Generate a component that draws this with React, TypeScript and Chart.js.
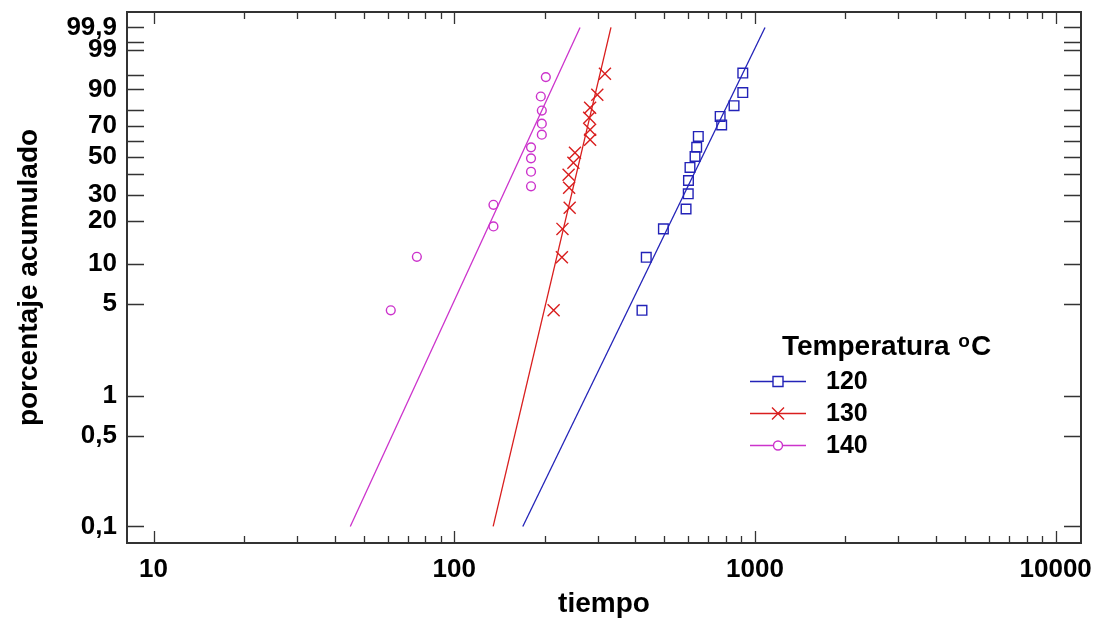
import React, { useEffect, useRef } from 'react';
import { Chart, registerables } from 'chart.js';

Chart.register(...registerables);

// ---- data (time in hours, cumulative percentage) ----
const time120 = [421, 435, 496, 590, 600, 601, 608, 632, 640, 648, 775, 766, 852, 911, 911];
const pct120 = [4.5, 11.1, 17.7, 24.2, 30.4, 36.8, 43.9, 50.5, 56.2, 63.3, 70.7, 76.0, 82.2, 88.7, 95.4];

const time130 = [214, 228, 229, 242, 241, 240, 249, 252, 283, 283, 281, 283, 299, 317];
const pct130 = [4.5, 11.1, 17.7, 24.7, 33.2, 39.9, 46.7, 52.8, 61.1, 67.6, 75.2, 81.1, 87.7, 95.2];

const time140 = [61.5, 75.1, 135, 135, 180, 180, 180, 180, 195.5, 195.5, 195.5, 194, 201.6];
const pct140 = [4.5, 11.2, 18.4, 25.8, 33.9, 41.5, 49.3, 56.2, 64.4, 71.5, 79.5, 86.9, 94.3];

// fitted Weibull lines (ends at 0.1 % and 99.9 %)
const fitPct = [0.1, 99.9];
const fitTime120 = [169, 1080];
const fitTime130 = [134.7, 332];
const fitTime140 = [45.1, 262];

const seriesNames = ['120', '130', '140'];
const legendTitle = 'Temperatura ';
const legendSup = 'o';
const legendUnit = 'C';

const yTickPct = [0.1, 0.5, 1, 5, 10, 20, 30, 40, 50, 60, 70, 80, 90, 95, 99, 99.5, 99.9];
const yTickLabels = ['0,1', '0,5', '1', '5', '10', '20', '30', '', '50', '', '70', '', '90', '', '99', '', '99,9'];
const xTickValues = [
  10, 20, 30, 40, 50, 60, 70, 80, 90,
  100, 200, 300, 400, 500, 600, 700, 800, 900,
  1000, 2000, 3000, 4000, 5000, 6000, 7000, 8000, 9000,
  10000,
];
const xMajor = [10, 100, 1000, 10000];

const xTitle = 'tiempo';
const yTitle = 'porcentaje acumulado';

const COLORS = ['#2323b8', '#d91e1e', '#cc33cc'];
const FONT = '"Liberation Sans", Arial, sans-serif';

const weib = (p: number) => Math.log(-Math.log(1 - p / 100));

const toPoints = (t: number[], p: number[]) => t.map((v, i) => ({ x: v, y: weib(p[i]) }));

const framePlugin = {
  id: 'framePlugin',
  afterDraw(chart: any) {
    const ctx = chart.ctx as CanvasRenderingContext2D;
    const { left, right, top, bottom } = chart.chartArea;
    const xs = chart.scales.x;
    const ys = chart.scales.y;
    ctx.save();
    ctx.strokeStyle = '#333';
    ctx.lineWidth = 1.3;
    ctx.beginPath();
    xs.ticks.forEach((t: any) => {
      const px = Math.round(xs.getPixelForValue(t.value)) + 0.5;
      const len = xMajor.includes(t.value) ? 12 : 7;
      ctx.moveTo(px, bottom);
      ctx.lineTo(px, bottom - len);
      ctx.moveTo(px, top);
      ctx.lineTo(px, top + len);
    });
    ys.ticks.forEach((t: any) => {
      const py = Math.round(ys.getPixelForValue(t.value)) + 0.5;
      ctx.moveTo(left, py);
      ctx.lineTo(left + 17, py);
      ctx.moveTo(right, py);
      ctx.lineTo(right - 17, py);
    });
    ctx.stroke();
    ctx.lineWidth = 2;
    ctx.strokeRect(left, top, right - left, bottom - top);

    // legend
    ctx.fillStyle = '#000';
    ctx.textBaseline = 'alphabetic';
    ctx.textAlign = 'left';
    ctx.font = `bold 28px ${FONT}`;
    const tx = 782;
    const ty = 355;
    ctx.fillText(legendTitle, tx, ty);
    const w1 = ctx.measureText(legendTitle).width;
    ctx.font = `bold 19px ${FONT}`;
    ctx.fillText(legendSup, tx + w1 + 1, ty - 8);
    const w2 = ctx.measureText(legendSup).width;
    ctx.font = `bold 28px ${FONT}`;
    ctx.fillText(legendUnit, tx + w1 + 1 + w2 + 1, ty);

    const rows = [381.5, 413.5, 445.5];
    rows.forEach((ry, i) => {
      const c = COLORS[i];
      ctx.strokeStyle = c;
      ctx.lineWidth = 1.4;
      ctx.beginPath();
      ctx.moveTo(750, ry);
      ctx.lineTo(806, ry);
      ctx.stroke();
      const cx = 778;
      ctx.fillStyle = '#fff';
      ctx.lineWidth = 1.4;
      ctx.beginPath();
      if (i === 0) {
        ctx.rect(cx - 5, ry - 5, 10, 10);
        ctx.fill();
        ctx.stroke();
      } else if (i === 1) {
        ctx.moveTo(cx - 6, ry - 6);
        ctx.lineTo(cx + 6, ry + 6);
        ctx.moveTo(cx - 6, ry + 6);
        ctx.lineTo(cx + 6, ry - 6);
        ctx.stroke();
      } else {
        ctx.arc(cx, ry, 4.5, 0, Math.PI * 2);
        ctx.fill();
        ctx.stroke();
      }
      ctx.fillStyle = '#000';
      ctx.font = `bold 25px ${FONT}`;
      ctx.textBaseline = 'middle';
      ctx.fillText(seriesNames[i], 826, ry + 1);
    });
    ctx.restore();
  },
};

export default function App() {
  const ref = useRef<HTMLCanvasElement | null>(null);

  useEffect(() => {
    if (!ref.current) return;
    const pointSets = [
      { t: time120, p: pct120, style: 'rect', r: 6.8 },
      { t: time130, p: pct130, style: 'crossRot', r: 8.5 },
      { t: time140, p: pct140, style: 'circle', r: 4.4 },
    ];
    const fits = [fitTime120, fitTime130, fitTime140];
    const datasets: any[] = [];
    pointSets.forEach((s, i) => {
      datasets.push({
        label: seriesNames[i],
        data: toPoints(s.t, s.p),
        showLine: false,
        pointStyle: s.style,
        pointRadius: s.r,
        pointBorderColor: COLORS[i],
        pointBackgroundColor: 'rgba(0,0,0,0)',
        pointBorderWidth: 1.4,
        borderColor: COLORS[i],
      });
    });
    fits.forEach((f, i) => {
      datasets.push({
        label: seriesNames[i] + ' ajuste',
        data: toPoints(f, fitPct),
        showLine: true,
        pointRadius: 0,
        borderColor: COLORS[i],
        borderWidth: 1.3,
        fill: false,
      });
    });

    const chart = new Chart(ref.current, {
      type: 'scatter',
      data: { datasets },
      options: {
        animation: false,
        responsive: false,
        maintainAspectRatio: false,
        layout: { padding: { top: 12, right: 16, left: 0, bottom: 0 } },
        plugins: { legend: { display: false }, tooltip: { enabled: false } },
        scales: {
          x: {
            type: 'logarithmic',
            min: 8.16,
            max: 12140,
            grid: { display: false, drawTicks: false },
            border: { display: false },
            afterBuildTicks: (s: any) => {
              s.ticks = xTickValues.map((v) => ({ value: v, major: xMajor.includes(v) }));
            },
            afterFit: (s: any) => {
              s.height = 80;
              s.paddingLeft = 0;
              s.paddingRight = 0;
              s.paddingTop = 0;
              s.paddingBottom = 0;
            },
            ticks: {
              autoSkip: false,
              maxRotation: 0,
              padding: 11,
              color: '#000',
              font: { family: FONT, size: 26, weight: 'bold' },
              callback: (v: any) => (xMajor.includes(Number(v)) ? String(v) : ''),
            },
            title: {
              display: true,
              text: xTitle,
              color: '#000',
              font: { family: FONT, size: 28, weight: 'bold' },
              padding: { top: 0, bottom: 2 },
            },
          },
          y: {
            type: 'linear',
            min: -7.2,
            max: 2.206,
            grid: { display: false, drawTicks: false },
            border: { display: false },
            afterBuildTicks: (s: any) => {
              s.ticks = yTickPct.map((p) => ({ value: weib(p) }));
            },
            afterFit: (s: any) => {
              s.width = 127;
              s.paddingLeft = 0;
              s.paddingRight = 0;
              s.paddingTop = 0;
              s.paddingBottom = 0;
            },
            ticks: {
              autoSkip: false,
              padding: 10,
              color: '#000',
              font: { family: FONT, size: 26, weight: 'bold' },
              callback: (_v: any, i: number) => yTickLabels[i],
            },
            title: {
              display: true,
              text: yTitle,
              color: '#000',
              font: { family: FONT, size: 28, weight: 'bold' },
              padding: { top: 12, bottom: 0 },
            },
          },
        },
      } as any,
      plugins: [framePlugin],
    });
    return () => chart.destroy();
  }, []);

  return (
    <div style={{ position: 'absolute', left: 0, top: 0, width: 1097, height: 623, background: '#fff' }}>
      <canvas ref={ref} width={1097} height={623} style={{ display: 'block' }} />
    </div>
  );
}
